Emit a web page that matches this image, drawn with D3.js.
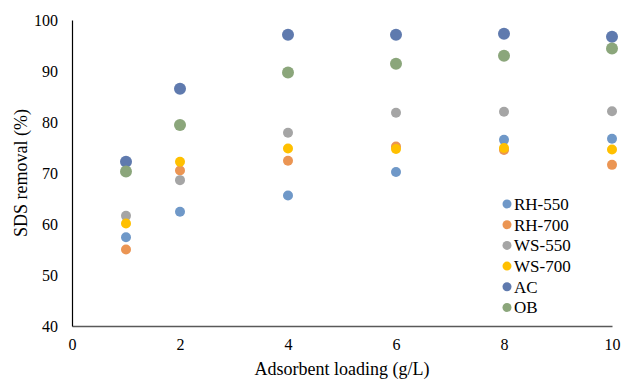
<html>
<head>
<script src="https://d3js.org/d3.v7.min.js"></script>
<style>
  body { margin: 0; background: #fff; }
  text { font-family: "Liberation Serif", "Times New Roman", serif; fill: #000; }
</style>
</head>
<body>
<svg width="622" height="379"></svg>
<script>
// loadings (g/L)
var loadings = [1, 2, 4, 6, 8, 10];
var seriesNames = ["RH-550", "RH-700", "WS-550", "WS-700", "AC", "OB"];
var seriesColors = ["#6f98c8", "#eb9553", "#a5a5a5", "#ffc000", "#5f7aae", "#8ba67b"];
var seriesRadius = [5, 5, 5, 5, 6, 6];

// SDS removal (%)
var rh550 = [57.4, 62.4, 65.6, 70.2, 76.5, 76.7];
var rh700 = [55.0, 70.5, 72.4, 75.2, 74.5, 71.6];
var ws550 = [61.6, 68.6, 77.9, 81.8, 82.0, 82.1];
var ws700 = [60.1, 72.2, 74.8, 74.7, 74.9, 74.6];
var ac    = [72.2, 86.5, 97.1, 97.1, 97.3, 96.7];
var ob    = [70.3, 79.4, 89.7, 91.4, 93.0, 94.4];

var xTicks = [0, 2, 4, 6, 8, 10];
var yTicks = [40, 50, 60, 70, 80, 90, 100];

var allSeries = [rh550, rh700, ws550, ws700, ac, ob];

var svg = d3.select("svg");
// plot area edges (window.top is reserved, so no "top" here)
var plotL = 72, plotR = 612, plotT = 20, plotB = 326;

var x = d3.scaleLinear().domain([0, 10]).range([plotL, plotR]);
var y = d3.scaleLinear().domain([40, 100]).range([plotB, plotT]);

//axes
var xAxis = d3.axisBottom(x).tickValues(xTicks).tickSize(0).tickPadding(13);
var gx = svg.append("g").attr("transform", "translate(0," + plotB + ")").call(xAxis)
  .attr("font-family", "Liberation Serif").attr("font-size", 16);
gx.select(".domain").attr("stroke", "#595959").attr("stroke-width", 1.5);

var yAxis = d3.axisLeft(y).tickValues(yTicks).tickSize(0).tickPadding(14);
var gy = svg.append("g").attr("transform", "translate(" + plotL + ",0)").call(yAxis)
  .attr("font-family", "Liberation Serif").attr("font-size", 16);
gy.select(".domain").attr("stroke", "#000").attr("stroke-width", 1.2);

//points, drawn in series order so AC and OB end on top
allSeries.forEach(function(vals, s) {
  svg.append("g").selectAll("circle")
    .data(vals)
    .enter().append("circle")
    .attr("cx", function(d, i) { return x(loadings[i]); })
    .attr("cy", function(d) { return y(d); })
    .attr("r", seriesRadius[s])
    .attr("fill", seriesColors[s]);
});

//axis titles
svg.append("text")
  .attr("x", (plotL + plotR) / 2).attr("y", 375)
  .attr("text-anchor", "middle").attr("font-size", 18)
  .text("Adsorbent loading (g/L)");

svg.append("text")
  .attr("transform", "translate(27," + ((plotT + plotB) / 2) + ") rotate(-90)")
  .attr("text-anchor", "middle").attr("font-size", 18)
  .text("SDS removal (%)");

//legend
var legend = svg.append("g").attr("transform", "translate(507,204)");
seriesNames.forEach(function(name, i) {
  var row = legend.append("g").attr("transform", "translate(0," + (i * 20.7) + ")");
  row.append("circle").attr("r", 4.5).attr("fill", seriesColors[i]);
  row.append("text").attr("x", 7).attr("dy", "0.35em").attr("font-size", 17).text(name);
});
</script>
</body>
</html>
